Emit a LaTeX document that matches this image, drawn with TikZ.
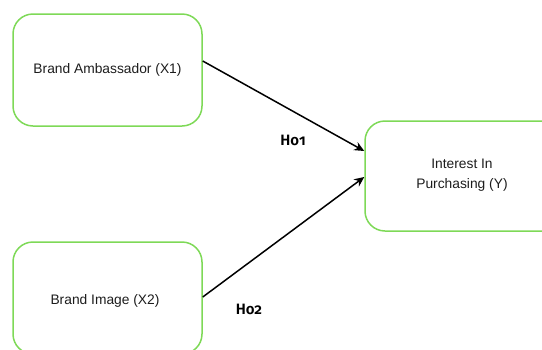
\documentclass[tikz,border=0pt]{standalone}
\usepackage{fontspec}
\setmainfont{Liberation Sans}
\newfontfamily\hypfont[Numbers=OldStyle]{Fira Sans SemiBold}
\usetikzlibrary{arrows.meta}
\definecolor{boxgreen}{RGB}{126,217,87}
\definecolor{txtgray}{RGB}{28,28,28}
\tikzset{
  boxfont/.style={font=\fontsize{13.8}{20}\selectfont},
  varbox/.style={draw=boxgreen, line width=1.5pt, rounded corners=20pt,
    minimum width=189pt, text=txtgray, align=center, boxfont},
  path/.style={draw=black, line width=1.5pt, -{Stealth[length=10pt,width=9pt]}},
  hyp/.style={font=\hypfont\fontsize{15}{16}\selectfont, text=black}
}
\begin{document}
\begin{tikzpicture}[x=1pt,y=-1pt]
  \useasboundingbox (0,0) rectangle (542,349);
  \clip (0,0) rectangle (542,349);
  % variable boxes
  \node[varbox, minimum height=112pt] (x1) at (107.5,70) {Brand Ambassador (X1)};
  \node[varbox, minimum height=112pt] (x2) at (107.5,298) {};
  \node[text=txtgray, boxfont] (x2t) at (105,300.5) {Brand Image (X2)};
  \node[varbox, minimum width=200pt, minimum height=110pt] (y) at (465,176) {};
  \node[text=txtgray, boxfont, align=center] (yt) at (462,175) {Interest In\\Purchasing (Y)};
  % path endpoints on the box borders
  \coordinate (s1) at ([yshift=9pt]x1.east);
  \coordinate (e1) at ([yshift=25pt]y.west);
  \coordinate (s2) at ([yshift=1pt]x2.east);
  \coordinate (e2) at ([yshift=-1pt]y.west);
  \draw[path] (s1) -- (e1);
  \draw[path] (s2) -- (e2);
  % hypothesis labels
  \node[hyp] (h1) at (293,140) {Ho1};
  \node[hyp] (h2) at (249,309) {Ho2};
\end{tikzpicture}
\end{document}
